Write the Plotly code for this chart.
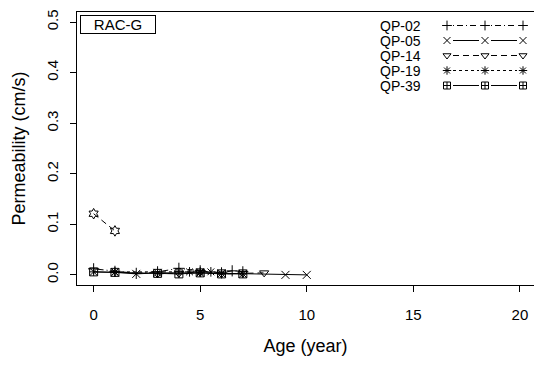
import plotly.graph_objects as go

# ---- data ----
series_names = ["QP-02", "QP-05", "QP-14", "QP-19", "QP-39"]
qp02_age = [0, 1, 2, 3, 4, 5, 6, 6.5, 7]
qp02_perm = [0.012, 0.007, 0.003, 0.006, 0.013, 0.008, 0.004, 0.008, 0.006]
qp05_age = [0, 1, 2, 3, 5, 6, 7, 9, 10]
qp05_perm = [0.006, 0.005, 0.002, 0.004, 0.004, 0.003, 0.002, 0.0, 0.0]
qp14_age = [0, 1, 2, 3, 4, 5, 6, 7, 8]
qp14_perm = [0.121, 0.087, None, 0.002, 0.003, 0.005, 0.002, 0.003, 0.004]
qp19_age = [1, 4.5, 5, 5.5]
qp19_perm = [0.006, 0.006, 0.006, 0.006]
qp39_age = [0, 1, 3, 4, 5, 6, 7]
qp39_perm = [0.006, 0.005, 0.003, 0.002, 0.004, 0.002, 0.002]
panel_label = "RAC-G"
x_ticks = [0, 5, 10, 15, 20]
y_ticks = [0.0, 0.1, 0.2, 0.3, 0.4, 0.5]
y_tick_text = ["0.0", "0.1", "0.2", "0.3", "0.4", "0.5"]

ages = [qp02_age, qp05_age, qp14_age, qp19_age, qp39_age]
perms = [qp02_perm, qp05_perm, qp14_perm, qp19_perm, qp39_perm]

# ---- styles ----
symbols = ["cross-thin-open", "x-thin-open", "triangle-down-open", "asterisk-open", "square-cross-open"]
dashes = ["1px,3px,6px,3px", "solid", "6px,4px", "3px,3px", "solid"]
FONT = "Liberation Sans, Arial, sans-serif"

fig = go.Figure()
for name, a, p, sym, d in zip(series_names, ages, perms, symbols, dashes):
    syms = [sym] * len(a)
    if name == "QP-14":
        syms = ["hexagram-open" if (v is not None and v > 0.05) else sym for v in p]
    fig.add_trace(go.Scatter(
        x=a, y=p, mode="lines+markers", name=name, showlegend=False,
        line=dict(color="black", width=1, dash=d),
        marker=dict(symbol=syms, size=8, color="black",
                    line=dict(color="black", width=1)),
        connectgaps=False,
    ))

# ---- custom legend (pixel-coordinate overlay axes) ----
leg_rows = [25.5, 40.5, 55.5, 70.5, 85.5]
leg_sym_x = [447, 485, 523]
leg_line_x = [453, 479, None, 491, 517]
for i, (name, sym, d) in enumerate(zip(series_names, symbols, dashes)):
    fig.add_trace(go.Scatter(
        x=leg_line_x, y=[leg_rows[i]] * 2 + [None] + [leg_rows[i]] * 2,
        xaxis="x2", yaxis="y2", mode="lines", showlegend=False, hoverinfo="skip",
        line=dict(color="black", width=1, dash=d),
    ))
    fig.add_trace(go.Scatter(
        x=leg_sym_x, y=[leg_rows[i]] * 3, xaxis="x2", yaxis="y2",
        mode="markers", showlegend=False, hoverinfo="skip",
        marker=dict(symbol=sym, size=7, color="black", line=dict(color="black", width=1)),
    ))
    fig.add_annotation(x=378, y=leg_rows[i], xref="x2", yref="y2", text=name,
                       showarrow=False, xanchor="left", yanchor="middle",
                       font=dict(family=FONT, size=14, color="black"))

fig.add_annotation(x=118, y=24, xref="x2", yref="y2", text=panel_label,
                   showarrow=False, xanchor="center", yanchor="middle",
                   width=72, height=15, borderpad=1,
                   bordercolor="black", borderwidth=1,
                   font=dict(family=FONT, size=15, color="black"))

fig.update_layout(
    width=534, height=366,
    margin=dict(l=77, r=0, t=12, b=81, autoexpand=False),
    paper_bgcolor="white", plot_bgcolor="white",
    font=dict(family=FONT, size=15, color="black"),
    xaxis=dict(range=[-0.78, 20.66], tickvals=x_ticks, ticks="outside", ticklen=6,
               tickwidth=1, tickcolor="black", showline=True, linecolor="black",
               linewidth=1, mirror=True, showgrid=False, zeroline=False,
               automargin=False, ticklabelstandoff=10,
               title=dict(text="Age (year)", standoff=17),
               tickfont=dict(size=15)),
    yaxis=dict(range=[-0.02, 0.52], tickvals=y_ticks, ticktext=y_tick_text,
               ticks="outside", ticklen=6, tickwidth=1, tickcolor="black",
               showline=True, linecolor="black", linewidth=1, showgrid=False,
               zeroline=False, tickangle=-90, automargin=False, ticklabelstandoff=6,
               title=dict(text="Permeability (cm/s)", standoff=13),
               tickfont=dict(size=15)),
    xaxis2=dict(range=[77, 534], overlaying="x", visible=False, fixedrange=True),
    yaxis2=dict(range=[285, 12], overlaying="y", visible=False, fixedrange=True),
)

fig.write_html("out.html", config={"displayModeBar": False},
               post_script="document.body.style.margin='0';document.body.style.overflow='hidden';")
